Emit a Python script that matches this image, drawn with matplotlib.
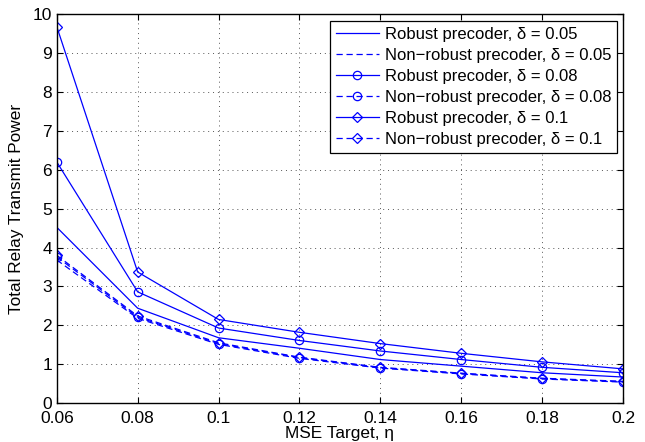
import matplotlib
matplotlib.use("Agg")
import matplotlib.pyplot as plt
import numpy as np

plt.rcParams['font.family'] = ['Liberation Sans', 'DejaVu Sans']

mse_target = [0.06, 0.08, 0.10, 0.12, 0.14, 0.16, 0.18, 0.20]

robust_005 = [4.52, 2.44, 1.68, 1.41, 1.12, 0.95, 0.78, 0.67]
nonrobust_005 = [3.68, 2.18, 1.51, 1.15, 0.90, 0.75, 0.62, 0.54]
robust_008 = [6.20, 2.86, 1.93, 1.61, 1.34, 1.12, 0.92, 0.78]
nonrobust_008 = [3.76, 2.21, 1.53, 1.17, 0.91, 0.76, 0.63, 0.55]
robust_01 = [9.68, 3.37, 2.15, 1.82, 1.53, 1.28, 1.06, 0.88]
nonrobust_01 = [3.80, 2.24, 1.55, 1.18, 0.92, 0.77, 0.64, 0.56]

labels = ['Robust precoder, δ = 0.05', 'Non−robust precoder, δ = 0.05',
          'Robust precoder, δ = 0.08', 'Non−robust precoder, δ = 0.08',
          'Robust precoder, δ = 0.1', 'Non−robust precoder, δ = 0.1']
xtick_labels = ['0.06', '0.08', '0.1', '0.12', '0.14', '0.16', '0.18', '0.2']

fig = plt.figure(figsize=(6.45, 4.42), dpi=100)
ax = fig.add_axes([0.088, 0.088, 0.878, 0.880])

blue = '#0000ff'
series = [(robust_005, '-', None), (nonrobust_005, '--', None),
          (robust_008, '-', 'o'), (nonrobust_008, '--', 'o'),
          (robust_01, '-', 'D'), (nonrobust_01, '--', 'D')]
for (vals, ls, mk), lab in zip(series, labels):
    ax.plot(mse_target, vals, linestyle=ls, marker=mk, color=blue, lw=0.9,
            markersize=6 if mk == 'o' else 5, markerfacecolor='none',
            markeredgewidth=0.9, dashes=(5, 3) if ls == '--' else (None, None),
            label=lab)

ax.set_xlim(0.06, 0.2)
ax.set_ylim(0, 10)
ax.set_xticks(np.arange(0.06, 0.201, 0.02))
ax.set_xticklabels(xtick_labels)
ax.set_yticks(range(0, 11))
ax.tick_params(direction='in', top=True, right=True, labelsize=12.5, length=4)
ax.tick_params(axis='x', pad=6)
ax.grid(True, linestyle=(0, (1, 4)), color='#555555', lw=0.7)
for s in ax.spines.values():
    s.set_linewidth(1.0)

ax.set_xlabel('MSE Target, η', fontsize=12.4, labelpad=0)
ax.set_ylabel('Total Relay Transmit Power', fontsize=12.4, labelpad=6)

leg = ax.legend(loc='upper right', fontsize=12, fancybox=False, framealpha=1,
                edgecolor='black', handlelength=2.6, labelspacing=0.36,
                borderpad=0.35, handletextpad=0.36, borderaxespad=0,
                bbox_to_anchor=(0.99, 0.982))
leg.get_frame().set_linewidth(0.9)

fig.savefig('out.png', dpi=100)
